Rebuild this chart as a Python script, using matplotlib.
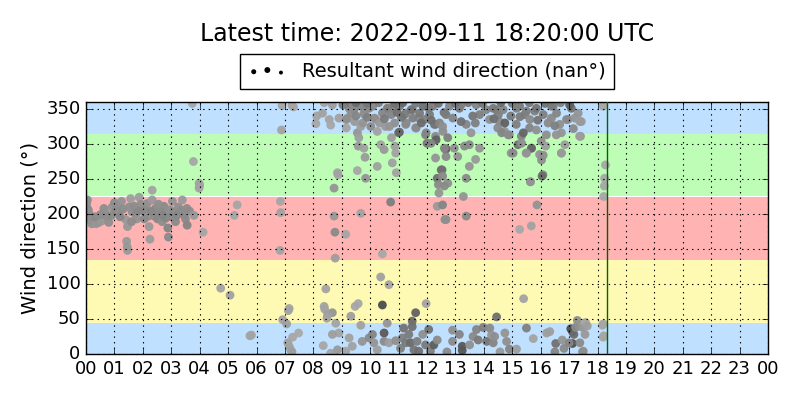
import numpy as np
import matplotlib
matplotlib.use('Agg')
import matplotlib.pyplot as plt

# wind observations: (hour of day, direction deg, speed m/s) -- speed sets the grey shade
obs_night = [
    (0.02, 214, 4.5), (0.05, 220, 4.4), (0.08, 206, 4.6), (0.1, 201, 4.4), (0.12, 196, 4.5),
    (0.16, 191, 4.3), (0.2, 186, 4.2), (0.28, 189, 4.3), (0.35, 186, 4.1), (0.45, 188, 4.2),
    (0.55, 190, 4.0), (0.63, 208, 4.4), (0.68, 202, 4.3), (0.75, 196, 4.5), (0.8, 188, 4.4),
    (0.92, 210, 4.2), (1.0, 216, 4.5), (1.05, 205, 4.6), (1.1, 213, 4.4), (1.16, 201, 4.3),
    (1.25, 218, 4.2), (1.3, 207, 4.5), (1.4, 192, 4.0), (1.46, 182, 4.1), (1.43, 161, 4.0),
    (1.45, 153, 4.1), (1.46, 148, 4.0), (1.52, 210, 4.4), (1.57, 222, 3.8), (1.62, 203, 4.3),
    (1.7, 211, 4.5), (1.75, 200, 4.6), (1.79, 193, 4.2), (1.87, 224, 3.8), (1.93, 214, 4.4),
    (2.0, 205, 4.5), (2.1, 206, 4.6), (2.15, 215, 4.4), (2.2, 197, 4.3), (2.22, 182, 4.0),
    (2.25, 164, 3.9), (2.33, 234, 3.6), (2.33, 220, 4.0), (2.4, 197, 4.5), (2.45, 208, 4.6),
    (2.52, 193, 4.7), (2.58, 200, 4.6), (2.63, 203, 4.5), (2.68, 189, 4.4), (2.74, 211, 4.6),
    (2.8, 194, 4.7), (2.85, 200, 4.5), (2.88, 180, 4.8), (2.9, 167, 4.6), (2.95, 206, 4.4),
    (3.04, 218, 4.2), (3.1, 203, 4.5), (3.15, 189, 4.6), (3.25, 210, 4.4), (3.39, 220, 4.0),
    (3.45, 199, 4.5), (3.5, 193, 4.6), (3.56, 184, 4.8), (3.65, 204, 4.4), (3.8, 198, 4.0),
    (3.98, 244, 3.6), (3.98, 237, 3.6), (4.0, 241, 3.6), (4.12, 174, 3.5), (3.78, 275, 3.5),
    (3.74, 358, 3.5), (0.3, 196, 4.6), (0.5, 199, 4.5), (0.9, 198, 4.6), (1.2, 196, 4.7),
    (1.6, 189, 4.5), (1.85, 204, 4.7), (2.05, 193, 4.6), (2.3, 204, 4.7), (2.55, 214, 4.4),
    (2.7, 198, 4.8), (3.0, 196, 4.6), (3.2, 198, 4.7), (3.35, 205, 4.6), (3.55, 208, 4.5),
]

obs_morning = [
    (4.74, 94, 3.6), (5.07, 84, 3.7), (5.22, 198, 3.5), (5.32, 213, 3.5), (5.77, 26, 3.6),
    (5.82, 27, 3.6), (6.83, 148, 3.6), (6.84, 218, 3.5), (6.85, 202, 3.6), (6.9, 355, 3.5),
    (6.88, 320, 3.6), (6.92, 49, 3.6), (7.06, 43, 3.8), (7.12, 62, 3.6), (7.15, 65, 3.6),
    (7.1, 16, 3.7), (7.15, 11, 3.6), (7.2, 6, 3.7), (7.25, 3, 3.8), (7.27, 24, 3.5),
    (7.48, 30, 3.4), (7.25, 355, 3.6), (7.3, 353, 3.5),
]

obs_midday = [
    (8.12, 340, 3.6), (8.09, 329, 3.5), (8.32, 344, 3.7), (8.56, 335, 3.6), (8.61, 327, 3.5),
    (8.38, 359, 3.6), (8.67, 356, 3.8), (8.9, 337, 3.7), (9.2, 337, 4.0), (9.26, 351, 4.6),
    (9.31, 358, 5.5), (9.43, 349, 4.8), (9.16, 323, 3.6), (9.55, 316, 4.2), (9.6, 309, 3.8),
    (9.58, 297, 4.0), (9.78, 294, 3.7), (9.82, 281, 3.9), (9.55, 262, 3.5), (9.84, 251, 4.2),
    (8.85, 259, 3.6), (8.87, 256, 3.6), (8.73, 237, 4.2), (9.67, 325, 3.8), (9.78, 344, 4.4),
    (9.96, 351, 4.8), (10.02, 325, 4.5), (10.2, 335, 4.0), (10.25, 318, 3.7), (10.37, 299, 3.6),
    (10.49, 292, 4.0), (10.75, 309, 3.8), (10.87, 297, 3.7), (10.9, 287, 3.6), (10.78, 273, 3.7),
    (10.92, 259, 3.6), (10.25, 268, 3.7), (10.43, 344, 4.2), (10.54, 325, 4.0), (10.6, 351, 4.8),
    (10.78, 351, 4.5), (10.99, 356, 5.2), (11.0, 316, 5.6), (11.25, 328, 4.6), (11.25, 344, 4.4),
    (11.48, 349, 5.0), (11.6, 323, 4.2), (11.71, 337, 4.6), (11.95, 313, 4.8), (12.0, 301, 5.2),
    (12.06, 351, 5.0), (12.3, 311, 4.6), (12.3, 280, 4.2), (12.5, 263, 5.8), (12.36, 251, 5.6),
    (12.4, 242, 4.6), (12.42, 230, 4.2), (12.36, 211, 4.0), (12.63, 192, 4.4), (12.3, 328, 4.8),
    (12.65, 292, 4.4), (8.73, 197, 4.0), (8.76, 174, 4.6), (9.14, 171, 3.5), (8.77, 137, 3.8),
    (9.67, 201, 3.6), (10.72, 217, 5.0), (10.43, 143, 3.4), (10.37, 110, 3.7), (10.66, 99, 3.6),
    (8.44, 93, 3.6), (8.38, 68, 3.6), (8.4, 64, 3.6), (8.67, 59, 4.2), (8.5, 56, 3.8),
    (8.48, 51, 3.6), (9.47, 68, 3.5), (9.58, 72, 3.5), (9.32, 54, 3.8), (10.43, 70, 7.0),
    (11.97, 72, 3.6), (11.6, 59, 6.2), (11.48, 47, 5.8), (10.6, 44, 4.2), (8.79, 44, 3.6),
    (8.9, 30, 3.6), (8.67, 28, 3.8), (9.26, 23, 3.7), (9.67, 41, 3.7), (8.35, 12, 3.5),
    (8.61, 1, 3.6), (8.85, 6, 4.0), (9.14, 4, 3.6), (9.37, 11, 3.7), (9.72, 18, 4.2),
    (9.96, 23, 4.6), (10.08, 28, 4.8), (10.13, 16, 4.2), (10.25, 6, 3.8), (10.49, 30, 6.5),
    (10.49, 18, 4.6), (10.66, 16, 3.8), (10.9, 19, 4.4), (11.07, 8, 5.0), (11.13, 23, 5.0),
    (11.18, 37, 5.5), (11.25, 16, 5.2), (11.36, 28, 5.2), (11.42, 16, 5.8), (11.48, 39, 5.6),
    (11.54, 6, 5.4), (11.65, 18, 5.0), (11.71, 4, 5.6), (11.85, 28, 4.4), (11.95, 13, 5.2),
    (12.06, 35, 5.6), (12.12, 4, 5.0), (12.24, 13, 6.4), (12.36, 20, 4.6),
    (9.04, 356, 5.2), (9.39, 356, 4.6), (9.33, 344, 4.4), (9.68, 354, 4.8), (9.8, 342, 4.4),
    (9.74, 330, 4.2), (9.45, 332, 4.0), (9.16, 335, 4.4), (10.09, 354, 4.6), (10.15, 337, 4.4),
    (10.33, 330, 4.0), (10.45, 345, 4.6), (10.62, 351, 5.0), (10.74, 342, 4.8), (10.86, 330, 4.4),
    (10.68, 325, 4.2), (11.03, 354, 5.2), (11.21, 342, 5.0), (11.27, 330, 4.6), (11.44, 349, 5.4),
    (11.5, 337, 5.0), (11.62, 323, 4.6), (11.74, 344, 5.2), (11.86, 354, 5.6), (11.91, 335, 5.0),
    (12.09, 342, 5.2), (12.2, 354, 5.0), (12.26, 328, 5.4), (12.44, 330, 4.8), (12.56, 318, 4.4),
    (12.32, 306, 6.2), (12.14, 301, 4.8), (12.67, 293, 6.2), (11.03, 317, 6.0), (11.97, 316, 4.8),
    (9.5, 359, 5.8), (9.9, 358, 5.4), (10.3, 359, 5.0), (10.85, 358, 5.6), (11.15, 359, 6.0),
    (11.6, 358, 5.2), (12.4, 358, 5.6), (9.9, 338, 5.0), (10.5, 336, 5.2), (11.1, 338, 5.4),
    (11.8, 330, 5.8), (12.15, 334, 5.6), (12.6, 345, 5.4), (9.5, 340, 4.8), (10.95, 345, 5.6),
]

obs_afternoon = [
    (12.79, 354, 4.8), (12.67, 342, 5.2), (12.91, 337, 4.8), (12.55, 325, 4.4), (12.73, 309, 5.0),
    (12.61, 294, 4.8), (12.96, 294, 4.4), (12.67, 282, 4.6), (13.08, 282, 4.2), (12.53, 263, 5.6),
    (12.55, 254, 4.6), (12.73, 244, 4.4), (12.61, 240, 4.6), (12.55, 213, 4.8), (12.67, 192, 4.4),
    (13.38, 197, 4.6), (13.28, 225, 4.2), (13.38, 251, 4.6), (13.49, 268, 4.2), (13.71, 278, 4.0),
    (13.32, 297, 4.6), (13.55, 316, 4.2), (13.38, 328, 4.8), (13.14, 351, 5.2), (13.2, 356, 5.0),
    (13.73, 356, 4.8), (13.85, 342, 5.0), (13.61, 340, 5.4), (13.85, 294, 4.2), (13.49, 299, 4.6),
    (14.2, 335, 4.4), (14.08, 349, 4.8), (14.44, 349, 5.0), (14.55, 332, 4.6), (14.73, 318, 4.2),
    (14.49, 323, 4.6), (14.9, 313, 4.0), (14.96, 287, 4.2), (15.14, 328, 5.0), (15.26, 354, 5.2),
    (15.32, 311, 4.8), (15.2, 299, 5.6), (15.44, 342, 5.0), (15.49, 287, 4.2), (15.67, 294, 4.6),
    (15.61, 323, 4.8), (15.79, 347, 5.0), (15.85, 320, 4.4), (15.96, 285, 4.2), (16.02, 304, 4.4),
    (16.08, 256, 4.8), (16.18, 297, 3.8), (16.38, 337, 4.6), (16.44, 354, 5.0), (16.2, 313, 4.4),
    (16.55, 313, 4.2), (16.85, 299, 3.8), (16.73, 287, 3.6), (16.96, 335, 4.4), (17.08, 351, 5.6),
    (17.2, 337, 4.2), (17.38, 332, 3.8), (17.4, 311, 4.4), (15.87, 213, 4.2), (15.64, 246, 4.2),
    (15.26, 178, 3.4), (15.67, 183, 3.6), (15.4, 79, 3.6), (18.2, 354, 3.5), (18.28, 270, 3.5),
    (18.25, 251, 3.5), (18.24, 240, 3.5), (18.22, 225, 3.5), (18.2, 43, 3.5), (18.22, 26, 3.5),
    (14.33, 351, 5.2), (14.51, 342, 5.0), (14.68, 349, 4.8), (14.74, 330, 6.2), (14.63, 316, 4.8),
    (14.86, 313, 4.6), (15.15, 351, 5.0), (15.27, 339, 5.2), (15.5, 347, 5.0), (15.62, 335, 4.6),
    (15.39, 316, 6.0), (15.33, 301, 4.4), (15.68, 294, 6.0), (15.85, 351, 5.4), (16.09, 342, 5.0),
    (16.26, 330, 4.6), (16.38, 354, 5.2), (16.56, 344, 4.8), (16.73, 316, 4.2), (16.67, 328, 4.4),
    (16.91, 335, 4.6), (17.02, 356, 6.4), (17.32, 344, 4.2), (17.43, 332, 4.0), (17.37, 311, 3.8),
    (16.73, 287, 4.0), (16.09, 284, 4.4), (16.03, 277, 4.4), (15.5, 287, 4.2), (15.03, 287, 4.6),
    (16.05, 254, 5.8), (15.64, 246, 4.2),
    (13.0, 358, 5.6), (13.45, 359, 5.2), (13.95, 358, 5.4), (14.6, 359, 5.8), (15.0, 358, 5.2),
    (15.6, 359, 5.4), (16.15, 358, 5.6), (16.7, 359, 5.0), (13.2, 332, 5.6), (13.7, 330, 5.0),
    (14.35, 336, 5.6), (14.95, 340, 5.2), (15.9, 334, 5.4), (16.5, 326, 5.0), (17.15, 322, 4.6),
    (12.9, 34, 4.4), (12.9, 18, 4.6), (13.14, 28, 4.8), (13.24, 11, 6.6), (13.24, 5, 6.6),
    (12.7, 3, 4.6), (13.5, 13, 4.4), (13.62, 25, 4.6), (13.74, 35, 4.8), (13.8, 20, 5.2),
    (13.98, 38, 5.0), (14.1, 18, 5.4), (14.21, 37, 4.6), (14.27, 27, 4.2), (14.33, 16, 4.8),
    (14.45, 53, 5.6), (14.38, 25, 4.4), (14.57, 3, 4.0), (14.74, 30, 4.2), (14.8, 18, 4.4),
    (14.9, 7, 4.8), (15.15, 7, 3.8), (15.5, 37, 5.0), (15.74, 22, 3.6), (16.21, 30, 3.8),
    (16.32, 32, 3.8), (16.53, 15, 5.6), (16.5, 3, 4.8), (16.76, 20, 4.2), (16.82, 8, 4.6),
    (17.06, 36, 7.0), (17.12, 32, 7.0), (17.17, 28, 5.8), (17.23, 38, 4.6), (17.29, 48, 4.4),
    (17.47, 38, 4.2), (17.58, 45, 3.6), (17.64, 40, 3.8), (17.47, 3, 4.2), (17.12, 15, 6.8),
    (17.0, 16, 4.8), (17.38, 16, 4.6), (17.5, 4, 4.4), (17.56, 28, 4.0), (18.17, 41, 3.5),
    (18.2, 24, 3.5),
]

latest_hour = 18 + 20 / 60.0
title_text = 'Latest time: 2022-09-11 18:20:00 UTC'

# direction sectors shaded behind the points
sector_edges = [0, 45, 135, 225, 315, 360]
sector_colors = ['#bfe0ff', '#fffab3', '#ffb3b3', '#bdfdb5', '#bfe0ff']

obs = np.array(obs_night + obs_morning + obs_midday + obs_afternoon)
hours, wdir, wspd = obs[:, 0], obs[:, 1], obs[:, 2]

plt.style.use('classic')
plt.rcParams['figure.facecolor'] = 'white'
plt.rcParams['savefig.facecolor'] = 'white'

fig = plt.figure(figsize=(8, 4), dpi=100)
ax = fig.add_axes([0.1075, 0.115, 0.8525, 0.63])

for lo, hi, col in zip(sector_edges[:-1], sector_edges[1:], sector_colors):
    ax.axhspan(lo, hi, color=col, lw=0, zorder=0)

ax.scatter(hours, wdir, c=wspd, cmap='gray_r', vmin=0, vmax=10, s=40,
           edgecolors='none', alpha=0.95, zorder=2)
ax.axvline(latest_hour, color='#006400', lw=1.0, zorder=3)

ax.set_xlim(0, 24)
ax.set_ylim(0, 360)
ax.set_xticks(range(25))
ax.set_xticklabels(['%02d' % (h % 24) for h in range(25)])
ax.set_yticks(range(0, 351, 50))
ax.tick_params(labelsize=13)
ax.grid(True, color='k', linestyle=':', lw=0.8)
ax.set_axisbelow(False)
ax.set_ylabel('Wind direction (°)', fontsize=14)

# legend proxy: nan points draw nothing but keep two marker sizes
proxy = ax.scatter([np.nan, np.nan], [np.nan, np.nan], c='k', s=[8, 18], edgecolors='none')
ax.legend([proxy], ['Resultant wind direction (nan°)'], loc='lower center',
          bbox_to_anchor=(0.5, 1.03), scatterpoints=3, fontsize=14,
          fancybox=False, borderaxespad=0.3)

fig.suptitle(title_text, x=0.534, y=0.915, va='center', fontsize=17)

fig.savefig('out.png', dpi=100)
